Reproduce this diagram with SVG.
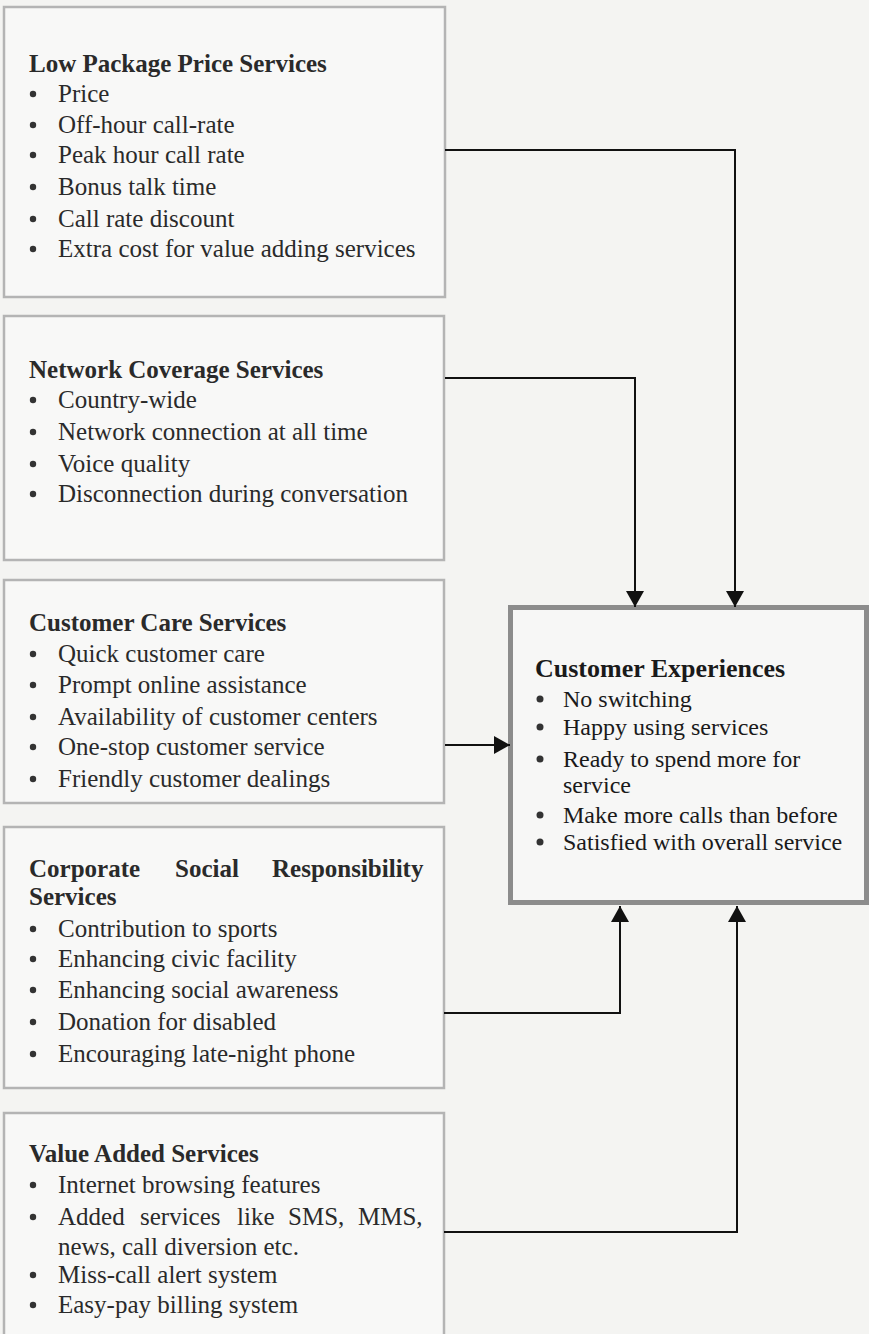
<svg xmlns="http://www.w3.org/2000/svg" width="869" height="1334" viewBox="0 0 869 1334">
<defs>
<marker id="ah" markerWidth="18" markerHeight="18" viewBox="0 0 18 18" refX="16" refY="9" orient="auto" markerUnits="userSpaceOnUse">
<path d="M0,0 L16,9 L0,18 Z" fill="#111"/>
</marker>
</defs>
<style>
.page{fill:#f4f4f2}
.sbox{fill:#f8f8f7;stroke:#b4b4b4;stroke-width:2.5}
.cbox{fill:#f7f7f6;stroke:#8c8c8c;stroke-width:5}
.t{font-family:"Liberation Serif","Times New Roman",serif;font-size:25px;fill:#2a2a2a}
.h{font-weight:bold}
.ct{font-family:"Liberation Serif","Times New Roman",serif;font-size:24px;fill:#1a1a1a}
.cth{font-size:26px;font-weight:bold}
.b{fill:#333}
.conn{fill:none;stroke:#111;stroke-width:2;marker-end:url(#ah)}
</style>
<rect class="page" x="0" y="0" width="869" height="1334"/>

<g id="low-package-price">
<rect class="sbox" x="4" y="7" width="441" height="290"/>
<text class="t h" x="29" y="72">Low Package Price Services</text>
<circle class="b" cx="33" cy="94" r="3.2"/><text class="t" x="58" y="102">Price</text>
<circle class="b" cx="33" cy="125" r="3.2"/><text class="t" x="58" y="133">Off-hour call-rate</text>
<circle class="b" cx="33" cy="155" r="3.2"/><text class="t" x="58" y="163">Peak hour call rate</text>
<circle class="b" cx="33" cy="187" r="3.2"/><text class="t" x="58" y="195">Bonus talk time</text>
<circle class="b" cx="33" cy="219" r="3.2"/><text class="t" x="58" y="227">Call rate discount</text>
<circle class="b" cx="33" cy="249" r="3.2"/><text class="t" x="58" y="257">Extra cost for value adding services</text>
</g>

<g id="network-coverage">
<rect class="sbox" x="4" y="316" width="440" height="244"/>
<text class="t h" x="29" y="378">Network Coverage Services</text>
<circle class="b" cx="33" cy="400" r="3.2"/><text class="t" x="58" y="408">Country-wide</text>
<circle class="b" cx="33" cy="432" r="3.2"/><text class="t" x="58" y="440">Network connection at all time</text>
<circle class="b" cx="33" cy="464" r="3.2"/><text class="t" x="58" y="472">Voice quality</text>
<circle class="b" cx="33" cy="494" r="3.2"/><text class="t" x="58" y="502">Disconnection during conversation</text>
</g>

<g id="customer-care">
<rect class="sbox" x="4" y="580" width="440" height="223"/>
<text class="t h" x="29" y="631">Customer Care Services</text>
<circle class="b" cx="33" cy="654" r="3.2"/><text class="t" x="58" y="662">Quick customer care</text>
<circle class="b" cx="33" cy="685" r="3.2"/><text class="t" x="58" y="693">Prompt online assistance</text>
<circle class="b" cx="33" cy="717" r="3.2"/><text class="t" x="58" y="725">Availability of customer centers</text>
<circle class="b" cx="33" cy="747" r="3.2"/><text class="t" x="58" y="755">One-stop customer service</text>
<circle class="b" cx="33" cy="779" r="3.2"/><text class="t" x="58" y="787">Friendly customer dealings</text>
</g>

<g id="csr">
<rect class="sbox" x="4" y="827" width="440" height="261"/>
<text class="t h" x="29" y="877">Corporate</text>
<text class="t h" x="175" y="877">Social</text>
<text class="t h" x="272" y="877">Responsibility</text>
<text class="t h" x="29" y="905">Services</text>
<circle class="b" cx="33" cy="929" r="3.2"/><text class="t" x="58" y="937">Contribution to sports</text>
<circle class="b" cx="33" cy="959" r="3.2"/><text class="t" x="58" y="967">Enhancing civic facility</text>
<circle class="b" cx="33" cy="990" r="3.2"/><text class="t" x="58" y="998">Enhancing social awareness</text>
<circle class="b" cx="33" cy="1022" r="3.2"/><text class="t" x="58" y="1030">Donation for disabled</text>
<circle class="b" cx="33" cy="1054" r="3.2"/><text class="t" x="58" y="1062">Encouraging late-night phone</text>
</g>

<g id="value-added">
<rect class="sbox" x="4" y="1113" width="440" height="240"/>
<text class="t h" x="29" y="1162">Value Added Services</text>
<circle class="b" cx="33" cy="1185" r="3.2"/><text class="t" x="58" y="1193">Internet browsing features</text>
<circle class="b" cx="33" cy="1217" r="3.2"/>
<text class="t" x="58" y="1225">Added</text>
<text class="t" x="140" y="1225">services</text>
<text class="t" x="237" y="1225">like</text>
<text class="t" x="288" y="1225">SMS,</text>
<text class="t" x="358" y="1225">MMS,</text>
<text class="t" x="58" y="1255">news, call diversion etc.</text>
<circle class="b" cx="33" cy="1275" r="3.2"/><text class="t" x="58" y="1283">Miss-call alert system</text>
<circle class="b" cx="33" cy="1305" r="3.2"/><text class="t" x="58" y="1313">Easy-pay billing system</text>
</g>

<g id="customer-experiences">
<rect class="cbox" x="510.5" y="607.5" width="356" height="295"/>
<text class="ct cth" x="535" y="677">Customer Experiences</text>
<circle class="b" cx="540" cy="699" r="3.5"/><text class="ct" x="563" y="707">No switching</text>
<circle class="b" cx="540" cy="727" r="3.5"/><text class="ct" x="563" y="735">Happy using services</text>
<circle class="b" cx="540" cy="759" r="3.5"/><text class="ct" x="563" y="767">Ready to spend more for</text>
<text class="ct" x="563" y="793">service</text>
<circle class="b" cx="540" cy="815" r="3.5"/><text class="ct" x="563" y="823">Make more calls than before</text>
<circle class="b" cx="540" cy="842" r="3.5"/><text class="ct" x="563" y="850">Satisfied with overall service</text>
</g>

<g id="connectors">
<path class="conn" d="M445,150 H735 V607"/>
<path class="conn" d="M445,378 H635 V607"/>
<path class="conn" d="M445,745 H510"/>
<path class="conn" d="M444,1013 H620 V906"/>
<path class="conn" d="M444,1232 H737 V906"/>
</g>
</svg>
